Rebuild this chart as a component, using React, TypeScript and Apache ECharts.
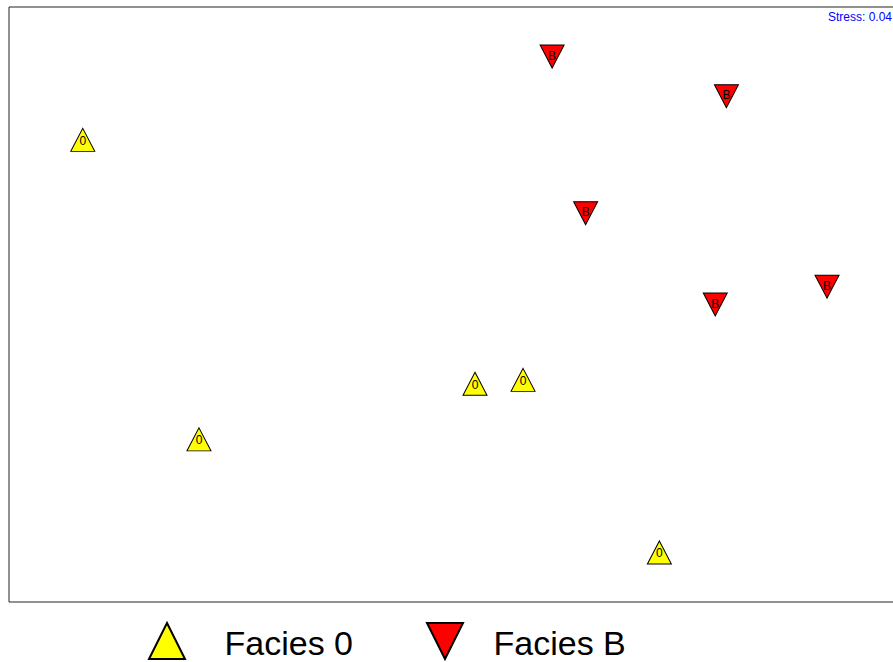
import React, { useEffect, useRef } from "react";
import * as echarts from "echarts";

const facies0X = [-1.67, -1.15, 0.085, 0.3, 0.91];
const facies0Y = [0.83, -0.68, -0.4, -0.38, -1.25];
const faciesBX = [0.43, 1.21, 0.58, 1.16, 1.66];
const faciesBY = [1.25, 1.05, 0.46, 0.0, 0.09];
const seriesNames = ["Facies 0", "Facies B"];
const pointLabels = ["0", "B"];
const stressText = "Stress: 0.04";

export default function App() {
  const ref = useRef<HTMLDivElement>(null);
  useEffect(() => {
    if (!ref.current) return;
    const chart = echarts.init(ref.current, null, { renderer: "svg" });
    const d0 = facies0X.map((x, i) => [x, facies0Y[i]]);
    const dB = faciesBX.map((x, i) => [x, faciesBY[i]]);
    const font = "Liberation Sans, Arial, sans-serif";
    chart.setOption({
      animation: false,
      backgroundColor: "#ffffff",
      grid: {
        left: 9,
        top: 7,
        right: 10,
        bottom: 60,
        show: true,
        borderColor: "#222",
        borderWidth: 1,
        backgroundColor: "transparent",
      },
      xAxis: { type: "value", min: -2, max: 2, show: false },
      yAxis: { type: "value", min: -1.5, max: 1.5, show: false },
      legend: {
        left: 148,
        top: 622,
        padding: 0,
        itemWidth: 37,
        itemHeight: 36,
        itemGap: 73,
        formatter: (name: string) => (name === seriesNames[0] ? `{a|${name}}` : `{b|${name}}`),
        textStyle: {
          fontSize: 34,
          fontFamily: font,
          color: "#000",
          rich: {
            a: { fontSize: 34, fontFamily: font, color: "#000", lineHeight: 30, padding: [4, 0, 0, 34] },
            b: { fontSize: 34, fontFamily: font, color: "#000", lineHeight: 30, padding: [4, 0, 0, 25] },
          },
        },
        data: [
          { name: seriesNames[0], icon: "path://M5,0 L10,10 L0,10 Z" },
          { name: seriesNames[1], icon: "path://M0,0 L10,0 L5,10 Z" },
        ],
      },
      graphic: [
        {
          type: "text",
          left: 828,
          top: 11,
          style: {
            text: stressText,
            fill: "#0000ff",
            fontSize: 12,
            fontFamily: font,
          },
        },
      ],
      series: [
        {
          name: seriesNames[0],
          type: "scatter",
          data: d0,
          symbol: "triangle",
          symbolSize: [24, 23],
          itemStyle: { color: "#ffff00", borderColor: "#000", borderWidth: 1, opacity: 1 },
          label: {
            show: true,
            formatter: pointLabels[0],
            position: "inside",
            offset: [0, 1],
            color: "#000",
            fontSize: 12,
            fontFamily: font,
          },
        },
        {
          name: seriesNames[1],
          type: "scatter",
          data: dB,
          symbol: "triangle",
          symbolRotate: 180,
          symbolSize: [24, 23],
          itemStyle: { color: "#ff0000", borderColor: "#000", borderWidth: 1, opacity: 1 },
          label: {
            show: true,
            formatter: pointLabels[1],
            position: "inside",
            offset: [0, -1],
            color: "#000",
            fontSize: 12,
            fontFamily: font,
          },
        },
      ],
    });
    return () => chart.dispose();
  }, []);
  return (
    <div style={{ position: "fixed", left: 0, top: 0, width: 893, height: 662, overflow: "hidden" }}>
      <div ref={ref} style={{ width: 913, height: 662 }} />
    </div>
  );
}
